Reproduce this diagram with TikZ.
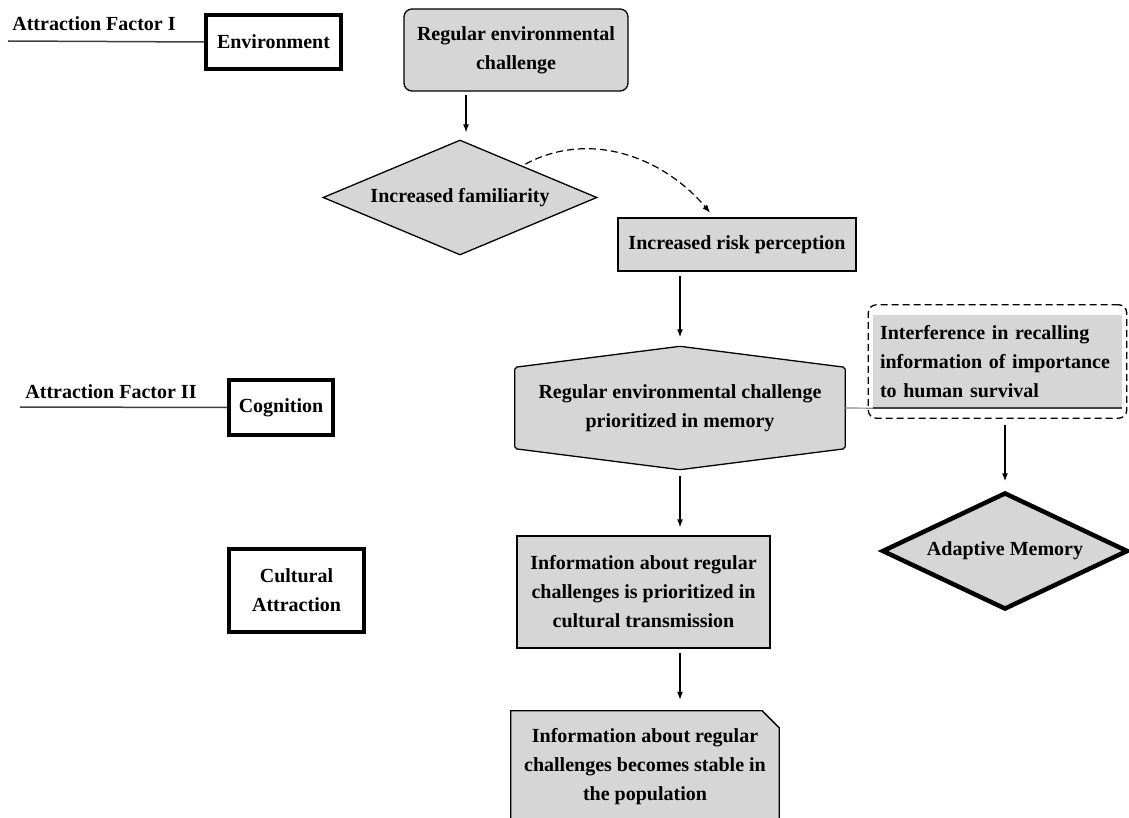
\documentclass[tikz,border=0pt]{standalone}
\usepackage{fontspec}
\setmainfont{Liberation Serif}
\usetikzlibrary{arrows.meta, shapes.geometric, backgrounds, fit}
\definecolor{boxgray}{RGB}{214,214,214}
\tikzstyle{graybox}=[rectangle, draw, fill=boxgray, line width=1.3pt, align=center, inner sep=0pt]
\tikzstyle{heavybox}=[rectangle, draw, line width=4.5pt, align=center, inner sep=0pt]
\tikzstyle{decision}=[diamond, draw, fill=boxgray, line width=1.3pt, inner sep=0pt]
\tikzstyle{outline}=[draw, fill=boxgray, line width=1.3pt]
\tikzstyle{dashbox}=[draw, dash pattern=on 7pt off 4pt, rounded corners=8pt, line width=1.3pt, inner xsep=4.5pt, inner ysep=10pt]
\tikzstyle{flow}=[-{Latex[length=8pt,width=6pt]}, line width=1.2pt]
\tikzstyle{factorline}=[line width=1.5pt, black!75]

\begin{document}
\begin{tikzpicture}[x=1pt, y=-1pt, every node/.style={font=\bfseries\fontsize{20}{29}\selectfont}]
    \clip (0,0) rectangle (1129,818);
    % attraction factors
    \node (af1) at (94,24) {Attraction Factor I};
    \node[heavybox, minimum width=135, minimum height=54] (env) at (273.5,42) {Environment};
    \coordinate (af1end) at (8,41);
    \node (af2) at (111,392) {Attraction Factor II};
    \node[heavybox, minimum width=104, minimum height=55] (cog) at (281,407.5) {Cognition};
    \coordinate (af2end) at (20,407);
    \node[heavybox, minimum width=135, minimum height=83] (cult) at (296.5,590.5) {Cultural\\Attraction};
    \draw[factorline] (af1end) -- (env.west);
    \draw[factorline] (af2end) -- (cog.west);

    % main chain
    \node[graybox, rounded corners=8pt, minimum width=224, minimum height=82] (reg) at (516,50) {Regular environmental\\challenge};
    \node[decision, aspect=2.38, minimum width=274, minimum height=115] (fam) at (460,197.5) {Increased familiarity};
    \node[graybox, minimum width=238, minimum height=53] (risk) at (737,244.5) {Increased risk perception};
    \node[align=center, minimum width=330, minimum height=81, inner sep=0pt] (mem) at (680,408) {Regular environmental challenge\\prioritized in memory};
    \coordinate (memtop) at ([yshift=21pt]mem.north);
    \coordinate (membot) at ([yshift=-21pt]mem.south);
    \node[graybox, minimum width=253, minimum height=112] (info) at (643.5,592) {Information about regular\\challenges is prioritized in\\cultural transmission};
    \node[align=center, minimum width=268, minimum height=112, inner sep=0pt] (stable) at (645,767) {Information about regular\\challenges becomes stable in\\the population};

    % side branch
    \node[fill=boxgray, text width=235, align=left, inner xsep=7pt, inner ysep=0pt, minimum height=93] (intf) at (997.5,361.5) {Interference in recalling\\information of importance\\to human survival};
    \node[dashbox, fit=(intf)] (intfbox) {};
    \node[decision, aspect=2.1, line width=4.5pt, minimum width=246, minimum height=117] (adm) at (1005,551) {Adaptive Memory};

    \begin{scope}[on background layer]
        \draw[outline, rounded corners=2pt] (mem.north west) -- (memtop) -- (mem.north east) -- (mem.south east) -- (membot) -- (mem.south west) -- cycle;
        \draw[outline] (stable.north west) -- ([xshift=-17pt]stable.north east) -- ([yshift=-17pt]stable.north east) -- (stable.south east) -- (stable.south west) -- cycle;
    \end{scope}

    \draw[line width=1.2pt, black!45] (mem.east) -- (intf.south west);
    \draw[line width=1.5pt, black!75] (intf.south west) -- (intf.south east);

    \draw[flow, shorten <=3pt, shorten >=7pt] ([xshift=6pt]fam.north |- reg.south) -- ([xshift=6pt]fam.north);
    \draw[flow, dash pattern=on 7pt off 4pt, shorten <=3pt, shorten >=6pt] ([shift={(-6pt,3pt)}]fam.north east) to[out=28, in=130] ([xshift=-23pt]risk.north);
    \draw[flow, shorten <=4pt, shorten >=9pt] (risk.south -| memtop) -- (memtop);
    \draw[flow, shorten <=6pt, shorten >=8pt] (membot) -- (info.north -| membot);
    \draw[flow, shorten <=4pt, shorten >=11pt] (info.south -| membot) -- (stable.north -| membot);
    \draw[flow, shorten <=6pt, shorten >=9pt] (intfbox.south -| adm.north) -- (adm.north);
\end{tikzpicture}
\end{document}
